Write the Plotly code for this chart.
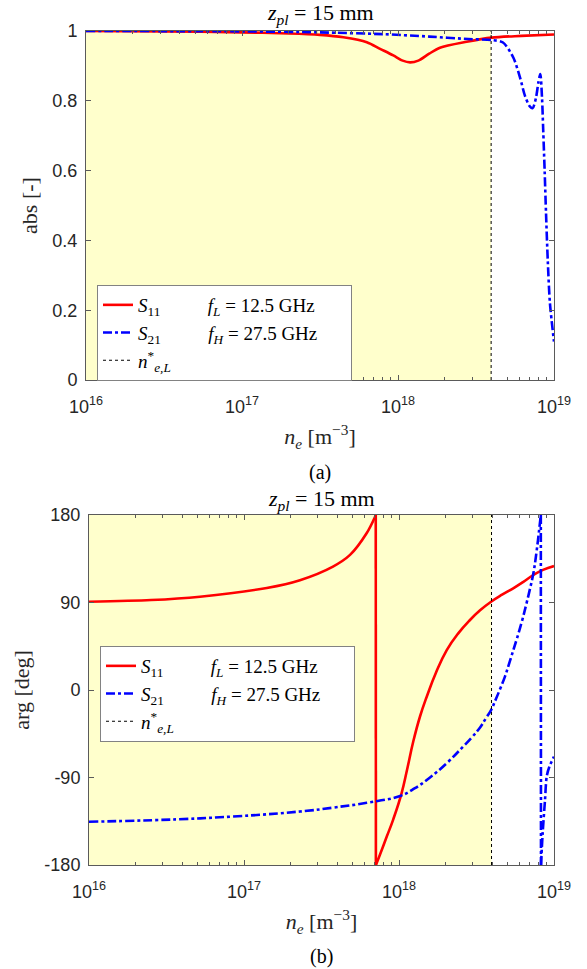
import plotly.graph_objects as go

# ---------------- data (x given as log10 of n_e [m^-3]) ----------------
NE_L_LOG = 18.597                      # n*_{e,L}

abs_s11_log = [16.0, 16.5, 17.0, 17.3, 17.5, 17.65, 17.8, 17.885, 17.97, 18.03, 18.077,
               18.13, 18.2, 18.269, 18.44, 18.6, 18.79, 19.0]
abs_s11 = [1.000, 0.999, 0.996, 0.993, 0.989, 0.982, 0.968, 0.949, 0.930, 0.915, 0.910,
           0.915, 0.935, 0.952, 0.969, 0.981, 0.986, 0.990]

abs_s21_log = [16.0, 17.0, 17.5, 17.9, 18.2, 18.45, 18.6, 18.673, 18.739, 18.782, 18.814,
               18.846, 18.863, 18.885, 18.9, 18.912, 18.923, 18.931, 18.94, 18.949, 18.96,
               18.974, 19.0]
abs_s21 = [1.000, 0.999, 0.996, 0.991, 0.984, 0.977, 0.974, 0.967, 0.924, 0.867, 0.814,
           0.783, 0.779, 0.810, 0.853, 0.877, 0.810, 0.714, 0.600, 0.477, 0.343,
           0.220, 0.110]

# phase segments (split where the phase wraps from +180 to -180)
arg_s11_log_a = [16.0, 16.4, 16.716, 17.147, 17.361, 17.574, 17.684, 17.792, 17.845, 17.85]
arg_s11_a = [90.8, 92.5, 96.0, 105.0, 113.0, 127.0, 139.0, 161.5, 178.0, 180.0]
arg_s11_log_b = [17.851, 17.877, 17.923, 17.963, 18.017, 18.052, 18.092, 18.136,
                 18.179, 18.239, 18.308, 18.381, 18.458, 18.523, 18.594, 18.665, 18.737,
                 18.8, 18.867, 18.929, 19.0]
arg_s11_b = [-180.0, -169.5, -150.0, -133.0, -106.0, -82.0, -53.0, -27.0,
             -6.9, 18.0, 41.0, 58.0, 72.0, 82.0, 90.8, 98.0, 104.6,
             111.0, 118.3, 123.5, 127.5]

arg_s21_log_a = [16.0, 16.716, 17.361, 17.574, 17.792, 18.007, 18.103, 18.2, 18.31, 18.415,
                 18.471, 18.523, 18.561, 18.594, 18.626, 18.652, 18.684, 18.716, 18.759,
                 18.792, 18.824, 18.845, 18.867, 18.888, 18.903, 18.915]
arg_s21_a = [-135.5, -132.0, -125.0, -121.0, -116.0, -109.0, -101.0, -90.0, -75.0, -58.0,
             -48.5, -38.5, -29.0, -20.6, -9.0, 1.0, 14.0, 30.0, 52.0,
             70.0, 90.0, 104.0, 120.0, 143.0, 163.0, 180.0]
arg_s21_log_b = [18.916, 18.927, 18.942, 18.953, 18.97, 19.0]
arg_s21_b = [-180.0, -147.0, -113.0, -89.0, -79.0, -68.6]

x_tick_exp = [16, 17, 18, 19]
abs_ticks = [0, 0.2, 0.4, 0.6, 0.8, 1]
abs_tick_text = ["0", "0.2", "0.4", "0.6", "0.8", "1"]
arg_ticks = [-180, -90, 0, 90, 180]
arg_tick_text = ["-180", "-90", "0", "90", "180"]

NB = "\u00a0"
LBL_S11 = "<i>S</i><sub>11</sub>" + NB * 10 + "<i>f</i><sub><i>L</i></sub> = 12.5 GHz" + NB * 6
LBL_S21 = "<i>S</i><sub>21</sub>" + NB * 10 + "<i>f</i><sub><i>H</i></sub> = 27.5 GHz" + NB * 6
LBL_NE = "<i>n</i><sup>*</sup><sub><i>e,L</i></sub>"
TITLE = "<i>z</i><sub><i>pl</i></sub> = 15 mm"
XTITLE = "<i>n</i><sub><i>e</i></sub> [m<sup>\u22123</sup>]"

# ---------------- helpers ----------------
def p10(v):
    return [10 ** e for e in v]

RED = "rgb(255,0,0)"
BLUE = "rgb(0,0,255)"
SERIF = "Liberation Serif, Times New Roman, serif"
SANS = "Liberation Sans, Arial, sans-serif"
AX = "rgb(90,90,90)"
TXT = "rgb(38,38,38)"
W, H = 587, 969
LW = 2.6

fig = go.Figure()

# top panel
fig.add_trace(go.Scatter(x=p10(abs_s11_log), y=abs_s11, mode="lines", name=LBL_S11,
                         line=dict(color=RED, width=LW, shape="spline", smoothing=0.8),
                         xaxis="x", yaxis="y", legend="legend"))
fig.add_trace(go.Scatter(x=p10(abs_s21_log), y=abs_s21, mode="lines", name=LBL_S21,
                         line=dict(color=BLUE, width=LW, dash="dashdot", shape="spline", smoothing=0.8),
                         xaxis="x", yaxis="y", legend="legend"))
fig.add_trace(go.Scatter(x=p10([NE_L_LOG, NE_L_LOG]), y=[0, 1], mode="lines", name=LBL_NE,
                         line=dict(color="black", width=1, dash="dot"),
                         xaxis="x", yaxis="y", legend="legend"))

# bottom panel
fig.add_trace(go.Scatter(x=p10(arg_s11_log_a), y=arg_s11_a, mode="lines", name=LBL_S11,
                         line=dict(color=RED, width=LW, shape="spline", smoothing=0.8),
                         xaxis="x2", yaxis="y2", legend="legend2", legendgroup="s11b"))
fig.add_trace(go.Scatter(x=p10([arg_s11_log_a[-1], arg_s11_log_b[0]]), y=[arg_s11_a[-1], arg_s11_b[0]],
                         mode="lines", showlegend=False, line=dict(color=RED, width=LW),
                         xaxis="x2", yaxis="y2", legend="legend2", legendgroup="s11b"))
fig.add_trace(go.Scatter(x=p10(arg_s11_log_b), y=arg_s11_b, mode="lines", showlegend=False,
                         line=dict(color=RED, width=LW, shape="spline", smoothing=1.3),
                         xaxis="x2", yaxis="y2", legend="legend2", legendgroup="s11b"))
fig.add_trace(go.Scatter(x=p10(arg_s21_log_a), y=arg_s21_a, mode="lines", name=LBL_S21,
                         line=dict(color=BLUE, width=LW, dash="dashdot", shape="spline", smoothing=1.2),
                         xaxis="x2", yaxis="y2", legend="legend2", legendgroup="s21b"))
fig.add_trace(go.Scatter(x=p10([arg_s21_log_a[-1], arg_s21_log_b[0]]), y=[arg_s21_a[-1], arg_s21_b[0]],
                         mode="lines", showlegend=False, line=dict(color=BLUE, width=LW, dash="dashdot"),
                         xaxis="x2", yaxis="y2", legend="legend2", legendgroup="s21b"))
fig.add_trace(go.Scatter(x=p10(arg_s21_log_b), y=arg_s21_b, mode="lines", showlegend=False,
                         line=dict(color=BLUE, width=LW, dash="dashdot", shape="spline", smoothing=0.8),
                         xaxis="x2", yaxis="y2", legend="legend2", legendgroup="s21b"))
fig.add_trace(go.Scatter(x=p10([NE_L_LOG, NE_L_LOG]), y=[-180, 180], mode="lines", name=LBL_NE,
                         line=dict(color="black", width=1, dash="dot"),
                         xaxis="x2", yaxis="y2", legend="legend2"))

# yellow region below n*_{e,L}
for xr, yr in (("x", "y domain"), ("x2", "y2 domain")):
    fig.add_shape(type="rect", xref=xr, yref=yr, x0=10 ** x_tick_exp[0], x1=10 ** NE_L_LOG,
                  y0=0, y1=1, fillcolor="rgb(255,255,204)", line=dict(width=0), layer="below")

minor_vals = [m * 10 ** e for e in x_tick_exp[:-1] for m in range(2, 10)]

def xaxis(domain, anchor):
    return dict(type="log", range=[x_tick_exp[0], x_tick_exp[-1]], domain=domain, anchor=anchor,
                tickmode="array", tickvals=p10(x_tick_exp),
                ticktext=["10<sup>%d</sup>" % e for e in x_tick_exp],
                ticks="inside", ticklen=5, tickcolor=AX, showline=True, linecolor=AX, linewidth=1,
                mirror="ticks", showgrid=False, zeroline=False, ticklabelstandoff=10,
                tickfont=dict(family=SANS, size=18, color=TXT),
                minor=dict(tickmode="array", tickvals=minor_vals, ticks="inside", ticklen=3,
                           tickcolor=AX, showgrid=False),
                title=dict(text=XTITLE, font=dict(family=SERIF, size=22, color=TXT), standoff=13),
                automargin=False)

def yaxis(domain, anchor, rng, tv, tt, title):
    return dict(range=rng, domain=domain, anchor=anchor, tickmode="array", tickvals=tv, ticktext=tt,
                ticks="inside", ticklen=5, tickcolor=AX, showline=True, linecolor=AX, linewidth=1,
                mirror="ticks", showgrid=False, zeroline=False, ticklabelstandoff=4,
                tickfont=dict(family=SANS, size=18, color=TXT),
                title=dict(text=title, font=dict(family=SERIF, size=22, color=TXT), standoff=8),
                automargin=False)

top_dom = [1 - 380 / H, 1 - 31 / H]
bot_dom = [1 - 865 / H, 1 - 515 / H]

LEG = dict(xanchor="left", yanchor="top", bgcolor="white",
           bordercolor="rgb(130,130,130)", borderwidth=1,
           font=dict(family=SERIF, size=19, color="black"), tracegroupgap=0)

fig.update_layout(
    width=W, height=H, autosize=False,
    margin=dict(l=0, r=0, t=0, b=0),
    paper_bgcolor="white", plot_bgcolor="white",
    xaxis=xaxis([86 / W, 554 / W], "y"),
    yaxis=yaxis(top_dom, "x", [0, 1], abs_ticks, abs_tick_text, "abs [-]"),
    xaxis2=xaxis([89 / W, 554 / W], "y2"),
    yaxis2=yaxis(bot_dom, "x2", [-180, 180], arg_ticks, arg_tick_text, "arg [deg]"),
    legend=dict(x=97 / W, y=1 - 285 / H, **LEG),
    legend2=dict(x=100 / W, y=1 - 646 / H, **LEG),
    showlegend=True,
    annotations=[
        dict(text=TITLE, xref="paper", yref="paper", x=320 / W, y=1 - 14 / H, showarrow=False,
             font=dict(family=SERIF, size=22, color="black"), xanchor="center", yanchor="middle"),
        dict(text=TITLE, xref="paper", yref="paper", x=321 / W, y=1 - 500 / H, showarrow=False,
             font=dict(family=SERIF, size=22, color="black"), xanchor="center", yanchor="middle"),
        dict(text="(a)", xref="paper", yref="paper", x=320 / W, y=1 - 473 / H, showarrow=False,
             font=dict(family=SERIF, size=20, color="black"), xanchor="center", yanchor="middle"),
        dict(text="(b)", xref="paper", yref="paper", x=321 / W, y=1 - 956 / H, showarrow=False,
             font=dict(family=SERIF, size=20, color="black"), xanchor="center", yanchor="middle"),
    ],
)

fig.write_html("out.html")
